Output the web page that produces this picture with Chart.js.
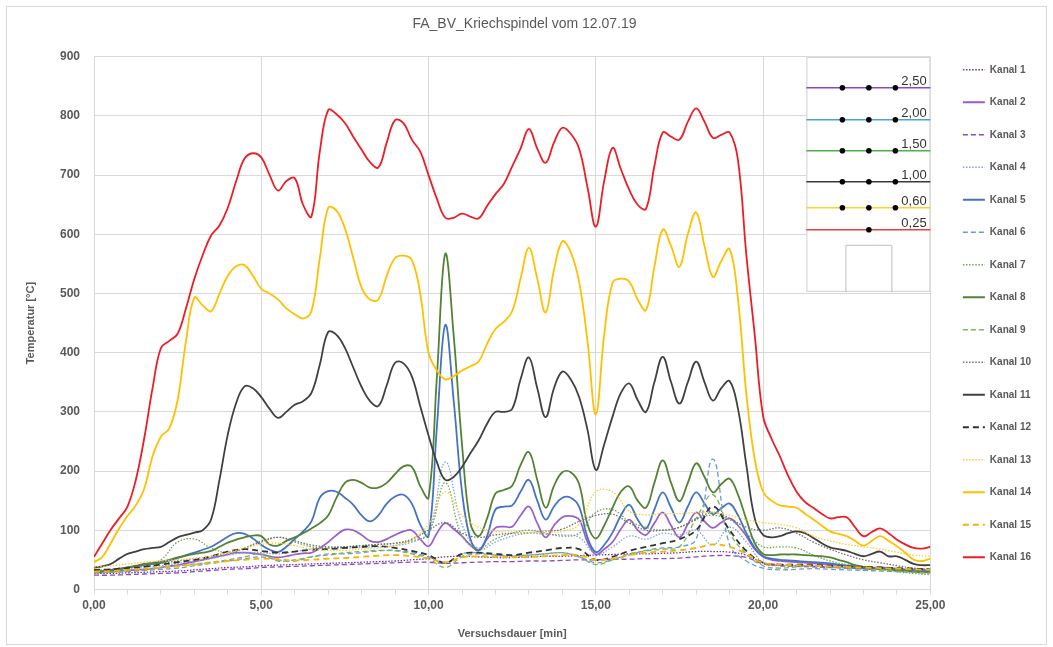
<!DOCTYPE html>
<html>
<head>
<meta charset="utf-8">
<script src="https://cdn.jsdelivr.net/npm/chart.js@4/dist/chart.umd.min.js"></script>
<style>
  html, body { margin: 0; padding: 0; background: #ffffff; }
  canvas { display: block; }
</style>
</head>
<body>
<canvas id="c" width="1053" height="647"></canvas>
<script>
// Time base (minutes): fine grid for the main channels, coarse grid for the rest
const minutesFine = [
  0,0.25,0.5,0.75, 1,1.25,1.5,1.75, 2,2.25,2.5,2.75, 3,3.25,3.5,3.75, 4,4.25,4.5,4.75,
  5,5.25,5.5,5.75, 6,6.25,6.5,6.75, 7,7.25,7.5,7.75, 8,8.25,8.5,8.75, 9,9.25,9.5,9.75,
  10,10.25,10.5,10.75, 11,11.25,11.5,11.75, 12,12.25,12.5,12.75, 13,13.25,13.5,13.75, 14,14.25,14.5,14.75,
  15,15.25,15.5,15.75, 16,16.25,16.5,16.75, 17,17.25,17.5,17.75, 18,18.25,18.5,18.75, 19,19.25,19.5,19.75,
  20,20.25,20.5,20.75, 21,21.25,21.5,21.75, 22,22.25,22.5,22.75, 23,23.25,23.5,23.75, 24,24.25,24.5,24.75,
  25
];
const minutesCoarse = [
  0,0.5,1,1.5,2,2.5,3,3.5,4,4.5,
  5,5.5,6,6.5,7,7.5,8,8.5,9,9.5,
  10,10.5,11,11.5,12,12.5,13,13.5,14,14.5,
  15,15.5,16,16.5,17,17.5,18,18.5,19,19.5,
  20,20.5,21,21.5,22,22.5,23,23.5,24,24.5,
  25
];

// Temperatures in °C
const kanal16 = [
  55,78,101,120, 140,185,255,340, 408,420,432,475, 525,565,598,615, 645,690,728,737,
  730,700,674,690, 695,650,630,740, 810,803,788,765, 743,722,713,755, 793,788,760,740,
  700,660,628,628, 635,630,627,648, 668,685,715,745, 778,745,721,755, 780,770,745,680,
  613,690,746,710, 675,650,643,715, 772,765,760,790, 813,790,763,768, 772,725,565,430,
  293,255,225,192, 165,148,138,128, 120,122,122,105, 90,97,103,95, 84,76,70,69,
  72
];
const kanal14 = [
  46,55,78,103, 124,142,170,225, 258,272,320,420, 493,480,470,500, 530,546,548,530,
  508,500,490,475, 465,458,470,560, 645,640,610,560, 510,490,490,530, 560,564,557,500,
  400,370,355,360, 370,377,385,415, 440,452,470,525, 577,525,468,540, 588,570,520,420,
  296,430,518,525, 520,490,472,545, 608,580,545,600, 637,580,528,555, 575,490,330,220,
  165,150,142,140, 138,128,118,108, 98,94,90,82, 74,82,90,82, 73,62,50,48,
  52
];
const kanal11 = [
  37,39,43,52, 60,64,68,70, 72,80,88,92, 96,100,118,185, 262,315,343,340,
  325,305,290,300, 312,318,332,380, 435,430,408,375, 342,318,310,345, 383,382,360,310,
  260,215,185,190, 207,230,252,280, 300,300,305,355, 392,340,291,340, 368,355,325,270,
  202,245,292,332, 348,320,300,350, 393,350,314,350, 385,350,319,340, 352,305,210,120,
  92,88,90,95, 98,95,87,78, 71,68,65,60, 56,60,64,56, 56,50,43,41,
  41
];
const kanal8 = [
  29,30,32,34, 37,40,43,45, 47,50,54,57, 60,62,65,72, 79,84,88,91,
  90,76,74,82, 88,95,103,112, 125,155,180,185, 180,172,172,180, 195,208,207,175,
  155,360,567,430, 245,112,90,120, 162,168,175,210, 232,185,138,175, 198,198,178,110,
  86,108,138,165, 174,150,138,180, 218,180,149,180, 213,190,164,178, 187,160,118,78,
  60,58,59,59, 59,58,57,56, 54,50,46,41, 38,36,35,34, 32,31,30,29,
  29
];
const kanal5 = [
  30,31,33,35, 37,39,41,43, 45,49,53,58, 62,67,72,80, 89,95,94,86,
  75,67,63,72, 85,98,115,155, 166,165,155,143, 125,115,125,145, 157,160,145,110,
  90,275,447,320, 165,85,66,90, 135,140,142,165, 185,150,118,140, 155,155,140,88,
  63,75,96,125, 143,118,103,135, 164,138,113,140, 164,145,127,137, 145,125,95,70,
  56,52,50,49, 48,47,46,45, 44,42,40,38, 36,36,37,36, 34,32,31,30,
  30
];
const kanal2 = [
  29,29,30,31, 32,33,34,35, 37,39,41,44, 47,50,53,56, 59,62,62,61,
  59,56,54,56, 59,61,62,70, 80,92,101,100, 92,82,80,85, 92,98,100,85,
  73,95,112,102, 90,75,66,85, 104,106,106,125, 140,112,88,108, 122,124,118,80,
  59,68,80,102, 118,100,92,112, 130,108,88,110, 130,115,104,113, 120,108,90,68,
  55,50,48,47, 46,45,44,43, 42,41,40,39, 38,37,37,36, 35,34,34,33,
  33
];

const kanal1 = [
  27,27,28,29,30,31,33,35,37,38,
  40,41,42,43,44,45,46,47,48,50,
  52,55,56,55,54,54,55,56,56,57,
  58,59,60,60,61,62,64,64,63,58,
  45,42,40,39,38,37,35,34,33,32,
  31
];
const kanal3 = [
  24,24,25,26,27,28,30,32,34,35,
  37,38,39,40,41,42,43,44,45,46,
  46,44,45,46,47,47,48,48,49,50,
  50,51,51,52,52,53,55,57,57,54,
  43,40,39,38,37,36,35,34,33,32,
  31
];
const kanal4 = [
  30,32,35,38,40,44,48,52,58,62,
  62,60,64,68,70,70,71,72,74,80,
  95,215,110,68,80,90,95,93,92,88,
  60,72,90,85,95,92,100,75,105,80,
  45,40,40,40,38,37,36,35,33,31,
  30
];
const kanal6 = [
  28,29,30,32,34,36,40,44,48,52,
  55,50,48,55,60,60,62,65,66,62,
  55,45,60,62,58,56,58,60,62,55,
  45,50,58,66,70,72,85,220,75,48,
  36,33,34,35,34,33,32,31,30,29,
  28
];
const kanal7 = [
  30,32,36,42,50,80,85,70,62,70,
  82,88,80,72,70,72,74,76,78,82,
  95,180,90,70,85,95,100,95,90,95,
  130,135,115,105,100,105,120,125,118,95,
  72,72,70,58,48,42,38,34,30,27,
  25
];
const kanal9 = [
  28,29,31,34,37,40,43,46,50,55,
  60,48,50,55,58,62,64,66,65,60,
  52,37,55,60,58,57,58,60,62,55,
  42,50,60,65,68,72,120,160,95,60,
  40,36,38,40,38,36,34,33,31,29,
  28
];
const kanal10 = [
  32,34,37,40,44,48,52,56,62,70,
  80,88,82,75,72,72,74,76,78,85,
  100,113,95,88,92,95,96,98,102,115,
  125,127,112,100,100,105,118,130,120,105,
  100,104,95,80,68,58,50,45,40,36,
  34
];
const kanal12 = [
  33,34,36,38,42,46,50,56,64,68,
  65,62,64,67,68,70,72,73,70,65,
  58,45,60,62,60,58,62,66,70,68,
  50,55,65,72,78,85,100,140,100,65,
  45,42,42,41,40,39,38,37,36,35,
  34
];
const kanal13 = [
  38,40,43,46,48,50,52,56,62,70,
  76,78,74,68,66,66,68,70,74,85,
  110,165,125,105,98,97,96,97,98,110,
  165,165,132,126,128,128,130,130,125,118,
  113,110,104,90,82,76,72,68,63,58,
  56
];
const kanal15 = [
  30,31,33,35,37,39,42,45,48,50,
  52,51,49,50,52,53,55,57,58,56,
  52,46,54,56,55,54,55,56,58,58,
  50,52,58,62,64,66,70,76,72,60,
  45,42,41,40,39,38,37,36,35,34,
  33
];

const channelNames = ['Kanal 1','Kanal 2','Kanal 3','Kanal 4','Kanal 5','Kanal 6','Kanal 7','Kanal 8',
                      'Kanal 9','Kanal 10','Kanal 11','Kanal 12','Kanal 13','Kanal 14','Kanal 15','Kanal 16'];
const channelValues = [kanal1,kanal2,kanal3,kanal4,kanal5,kanal6,kanal7,kanal8,
                       kanal9,kanal10,kanal11,kanal12,kanal13,kanal14,kanal15,kanal16];
const channelTimes = [minutesCoarse,minutesFine,minutesCoarse,minutesCoarse,minutesFine,minutesCoarse,minutesCoarse,minutesFine,
                      minutesCoarse,minutesCoarse,minutesFine,minutesCoarse,minutesCoarse,minutesFine,minutesCoarse,minutesFine];

const xTickValues = [0, 5, 10, 15, 20, 25];
const insetLabels = ['2,50', '2,00', '1,50', '1,00', '0,60', '0,25'];

// Line appearance per channel
const DOT = [1.5, 1.6];
const DASH = [5, 3];
const styles = [
  { color: '#7030A0', width: 1.3, dash: DOT },
  { color: '#9A5CCB', width: 1.7, dash: [] },
  { color: '#8A48C2', width: 1.3, dash: DASH },
  { color: '#7FA2DE', width: 1.3, dash: DOT },
  { color: '#4472C4', width: 1.8, dash: [] },
  { color: '#6E97DA', width: 1.3, dash: DASH },
  { color: '#6AA84F', width: 1.3, dash: DOT },
  { color: '#548235', width: 1.8, dash: [] },
  { color: '#7DB35A', width: 1.3, dash: DASH },
  { color: '#6F6F6F', width: 1.3, dash: DOT },
  { color: '#404040', width: 1.8, dash: [] },
  { color: '#333333', width: 1.8, dash: [6, 4] },
  { color: '#FFCC33', width: 1.3, dash: DOT },
  { color: '#FFC000', width: 1.8, dash: [] },
  { color: '#F5B400', width: 1.8, dash: [6, 4] },
  { color: '#EE1C25', width: 1.8, dash: [] }
];

const datasets = channelNames.map((name, i) => ({
  label: name,
  data: channelValues[i].map((v, k) => ({ x: channelTimes[i][k], y: v })),
  borderColor: styles[i].color,
  backgroundColor: styles[i].color,
  borderWidth: styles[i].width,
  borderDash: styles[i].dash,
  pointRadius: 0,
  pointHoverRadius: 0,
  tension: 0.4,
  fill: false,
  order: channelNames.length - i,
  xAxisID: 'x',
  yAxisID: 'y'
}));

const FONT = "'Liberation Sans Narrow', 'Liberation Sans', Arial, sans-serif";
const TEXT = '#595959';
const GRID = '#d9d9d9';

// White background and outer frame
const framePlugin = {
  id: 'frame',
  beforeDraw(chart) {
    const ctx = chart.ctx;
    ctx.save();
    ctx.fillStyle = '#ffffff';
    ctx.fillRect(0, 0, chart.width, chart.height);
    ctx.strokeStyle = '#d9d9d9';
    ctx.lineWidth = 1;
    ctx.strokeRect(6.5, 6.5, chart.width - 13, chart.height - 9);
    ctx.restore();
  }
};

// Lift the legend column slightly above the vertical centre
const legendShiftPlugin = {
  id: 'legendShift',
  afterLayout(chart) {
    if (chart.legend) {
      chart.legend.top -= 8;
      chart.legend.bottom -= 8;
    }
  }
};

// Cross-section sketch in the upper right corner of the plot
const insetPlugin = {
  id: 'inset',
  afterDatasetsDraw(chart) {
    const { ctx, chartArea } = chart;
    const right = chartArea.right;
    const top = chartArea.top;
    const left = right - 124;
    const bottom = top + 235;
    ctx.save();
    ctx.fillStyle = '#ffffff';
    ctx.fillRect(left, top, right - left, bottom - top);
    ctx.strokeStyle = '#cfcfcf';
    ctx.lineWidth = 1;
    ctx.strokeRect(left + 0.5, top + 0.5, right - left - 1, bottom - top - 1);

    const rows = [
      { dy: 31, color: '#8E44C8', dots: 3 },
      { dy: 63, color: '#45A3D9', dots: 3 },
      { dy: 94, color: '#4CB04C', dots: 3 },
      { dy: 125, color: '#3a3a3a', dots: 3 },
      { dy: 151, color: '#FFD21F', dots: 3 },
      { dy: 173, color: '#E8413C', dots: 1 }
    ];
    const dotX3 = [left + 36, left + 62.5, left + 89];
    rows.forEach((r, i) => {
      const y = top + r.dy;
      ctx.strokeStyle = r.color;
      ctx.lineWidth = 1.6;
      ctx.beginPath();
      ctx.moveTo(left, y);
      ctx.lineTo(right, y);
      ctx.stroke();
      ctx.fillStyle = '#000000';
      const xs = r.dots === 3 ? dotX3 : [dotX3[1]];
      xs.forEach(x => {
        ctx.beginPath();
        ctx.arc(x, y, 2.8, 0, Math.PI * 2);
        ctx.fill();
      });
      ctx.fillStyle = '#333333';
      ctx.font = "13px 'Liberation Sans', Arial, sans-serif";
      ctx.textAlign = 'left';
      ctx.textBaseline = 'alphabetic';
      ctx.fillText(insetLabels[i], left + 95, y - 3);
    });
    // small housing at the bottom
    ctx.strokeStyle = '#bdbdbd';
    ctx.lineWidth = 1;
    ctx.beginPath();
    ctx.moveTo(left + 39.5, bottom);
    ctx.lineTo(left + 39.5, top + 188.5);
    ctx.lineTo(left + 85.5, top + 188.5);
    ctx.lineTo(left + 85.5, bottom);
    ctx.stroke();
    ctx.restore();
  }
};

Chart.defaults.font.family = FONT;
Chart.defaults.color = TEXT;

new Chart(document.getElementById('c'), {
  type: 'line',
  data: { datasets },
  plugins: [framePlugin, legendShiftPlugin, insetPlugin],
  options: {
    responsive: false,
    animation: false,
    devicePixelRatio: 1,
    layout: { padding: { left: 8, right: 12, top: 0, bottom: 4 } },
    interaction: { mode: 'nearest', intersect: false },
    plugins: {
      tooltip: { enabled: false },
      title: {
        display: true,
        text: 'FA_BV_Kriechspindel vom 12.07.19',
        color: TEXT,
        font: { size: 14, weight: 'normal', family: FONT },
        padding: { top: 16, bottom: 24 }
      },
      legend: {
        position: 'right',
        align: 'center',
        labels: {
          usePointStyle: true,
          pointStyle: 'line',
          pointStyleWidth: 22,
          padding: 22.5,
          color: TEXT,
          font: { size: 10, weight: 'bold', family: FONT },
          sort: (a, b) => a.datasetIndex - b.datasetIndex,
          generateLabels(chart) {
            const items = Chart.defaults.plugins.legend.labels.generateLabels(chart);
            items.forEach(item => {
              const ds = chart.data.datasets[item.datasetIndex];
              item.strokeStyle = ds.borderColor;
              item.lineWidth = ds.borderWidth + 0.3;
              item.lineDash = ds.borderDash;
            });
            return items;
          }
        }
      }
    },
    scales: {
      x: {
        type: 'linear',
        min: 0,
        max: 25,
        afterBuildTicks(scale) {
          const t = [];
          for (let m = scale.min; m <= scale.max; m += 1) t.push({ value: m });
          scale.ticks = t;
        },
        ticks: {
          autoSkip: false,
          maxRotation: 0,
          padding: 4,
          color: TEXT,
          font: { size: 12, weight: 'bold', family: FONT },
          callback: (v) => xTickValues.includes(v) ? v.toFixed(2).replace('.', ',') : ''
        },
        grid: {
          color: (c) => (c.tick && xTickValues.includes(c.tick.value)) ? GRID : 'rgba(0,0,0,0)',
          tickColor: GRID,
          tickLength: 5,
          lineWidth: 1
        },
        border: { display: false },
        title: {
          display: true,
          text: 'Versuchsdauer [min]',
          color: TEXT,
          font: { size: 11, weight: 'bold', family: FONT },
          padding: { top: 11, bottom: 2 }
        }
      },
      y: {
        min: 0,
        max: 900,
        afterFit(scale) { scale.width = 86; },
        ticks: {
          stepSize: 100,
          padding: 14,
          color: TEXT,
          font: { size: 12, weight: 'bold', family: FONT }
        },
        grid: { color: GRID, drawTicks: false, lineWidth: 1 },
        border: { display: false },
        title: {
          display: true,
          text: 'Temperatur [°C]',
          color: TEXT,
          font: { size: 11, weight: 'bold', family: FONT },
          padding: { top: 16, bottom: 20 }
        }
      },
      spacer: {
        type: 'linear',
        position: 'right',
        display: true,
        afterFit(scale) { scale.width = 10; },
        grid: { display: false },
        border: { display: false },
        ticks: { display: false }
      }
    }
  }
});
</script>
</body>
</html>
